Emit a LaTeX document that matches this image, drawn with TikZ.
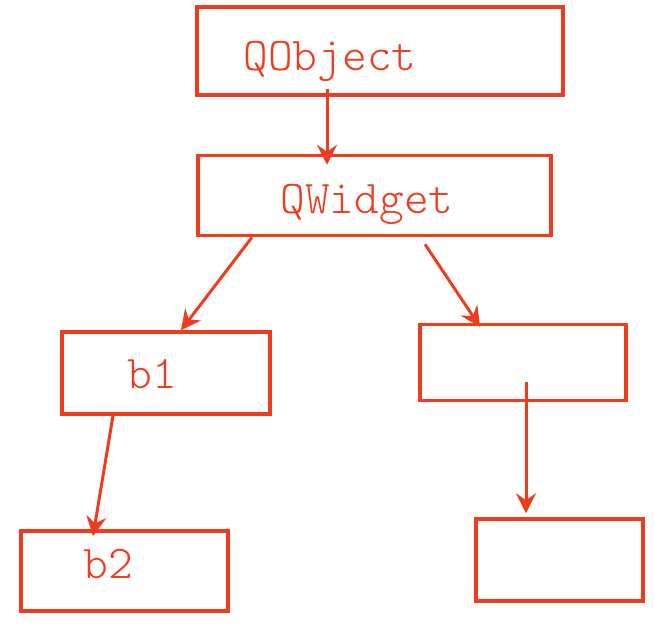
\documentclass[tikz,border=0pt]{standalone}
\usetikzlibrary{positioning,arrows.meta}
\definecolor{QtRed}{HTML}{F03C1E}
\tikzset{
  classbox/.style={draw=QtRed,line width=3.5pt,rectangle,inner sep=0pt},
  classname/.style={text=QtRed,font=\fontsize{47}{47}\selectfont\ttfamily\fontseries{l}\selectfont,
    inner sep=0pt,anchor=base},
  inherits/.style={-{Stealth[length=20pt,width=20pt,inset=7pt]},draw=QtRed,
    line width=3pt},
}
\begin{document}
\begin{tikzpicture}[x=1pt,y=-1pt]
  \useasboundingbox (0,0) rectangle (655,625);
  % class boxes
  \node[classbox,minimum width=366pt,minimum height=88pt] (qobj) at (380,51) {};
  \node[classbox,minimum width=353pt,minimum height=80pt] (qwid) at (374.5,195.5) {};
  \node[classbox,minimum width=208pt,minimum height=82pt] (bone) at (166,373) {};
  \node[classbox,minimum width=206pt,minimum height=76pt] (rbox) at (523,362.5) {};
  \node[classbox,minimum width=207pt,minimum height=80pt] (btwo) at (124.5,571) {};
  \node[classbox,minimum width=167pt,minimum height=82pt] (rbbox) at (559.5,560) {};
  % names
  \node[classname] (qobjtxt) at (330,70) {QObject};
  \node[classname] (qwidtxt) at (367,213) {QWidget};
  \node[classname] (bonetxt) at (152,388) {b1};
  \node[classname] (btwotxt) at (108,578) {b2};
  % arrows
  \draw[inherits] ([xshift=-53pt,yshift=8pt]qobj.south)
    -- ([xshift=-47.5pt,yshift=-11pt]qwid.north);
  \draw[inherits] ([xshift=-122.5pt,yshift=0pt]qwid.south)
    -- ([xshift=15pt,yshift=0pt]bone.north);
  \draw[inherits] ([xshift=50.5pt,yshift=-7pt]qwid.south)
    -- ([xshift=-43pt,yshift=-4pt]rbox.north);
  \draw[inherits] ([xshift=-53pt,yshift=0pt]bone.south)
    -- ([xshift=-31.5pt,yshift=-7pt]btwo.north);
  \draw[inherits] ([xshift=3pt,yshift=-19.5pt]rbox.center)
    -- ([xshift=-33.5pt,yshift=4pt]rbbox.north);
\end{tikzpicture}
\end{document}
